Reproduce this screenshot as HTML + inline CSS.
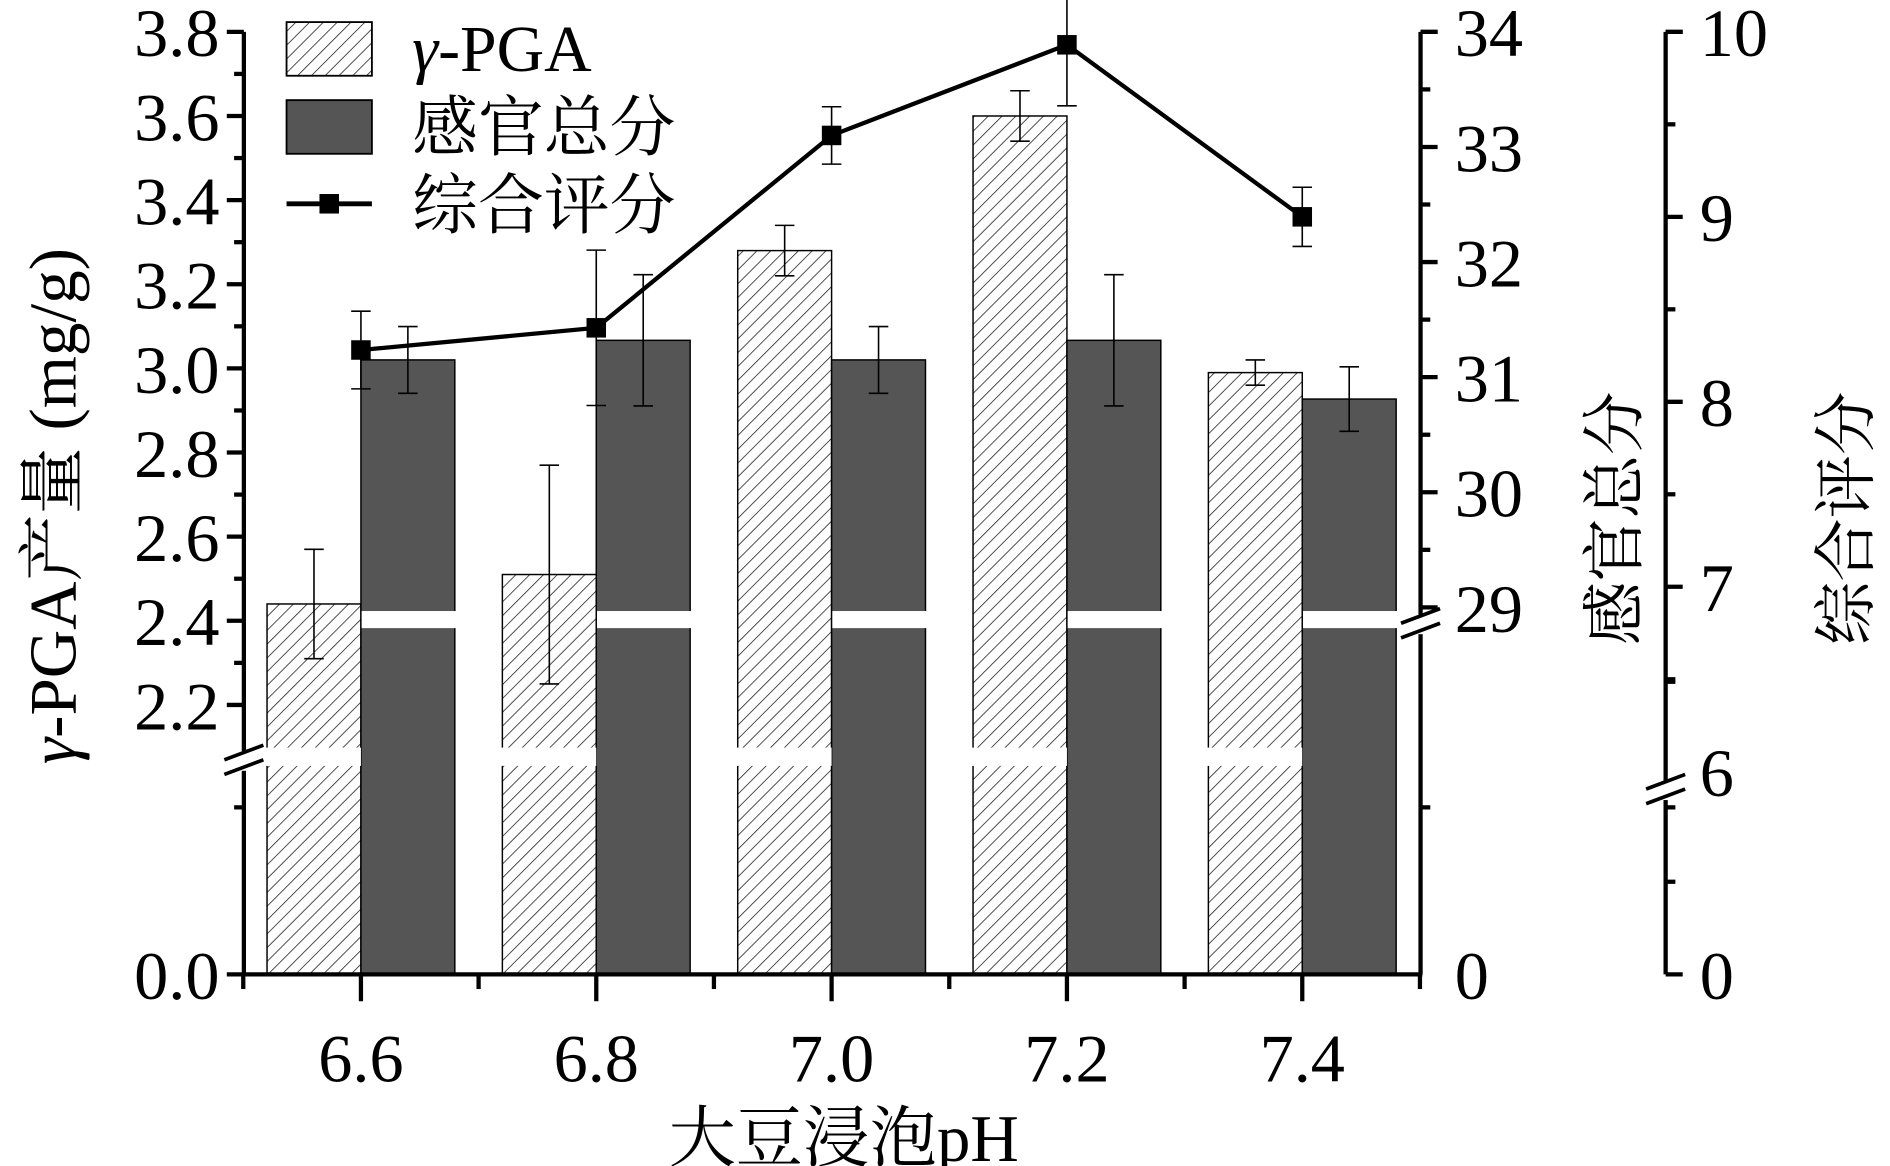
<!DOCTYPE html>
<html><head><meta charset="utf-8"><style>
html,body{margin:0;padding:0;background:#fff}
svg{display:block}
text{font-family:"Liberation Serif","Noto Serif CJK SC","Noto Sans CJK SC",serif;fill:#000}
</style></head><body>
<svg id="chart" width="1890" height="1166" viewBox="0 0 1550 956" xmlns="http://www.w3.org/2000/svg">
<defs>
<pattern id="hatch" patternUnits="userSpaceOnUse" width="8" height="8" patternTransform="rotate(45)">
<rect width="8" height="8" fill="#fff"/><line x1="0" y1="0" x2="0" y2="8" stroke="#222" stroke-width="1.3"/>
</pattern>
</defs>
<g id="plot"></g>
<g>
<rect x="235" y="18" width="70" height="44" fill="url(#hatch)" stroke="#000" stroke-width="1.5"/>
<text x="338" y="58" font-size="54"><tspan font-style="italic">γ</tspan>-PGA</text>
<rect x="235" y="82" width="70" height="44" fill="#555" stroke="#000" stroke-width="1.5"/>
<text x="338" y="123" font-size="54">感官总分</text>
<line x1="235" y1="167" x2="305" y2="167" stroke="#000" stroke-width="4"/>
<rect x="262" y="159" width="16" height="16" fill="#000"/>
<text x="338" y="187" font-size="54">综合评分</text>
</g>
<text transform="translate(62,415) rotate(-90)" text-anchor="middle" font-size="55"><tspan font-style="italic">γ</tspan>-PGA产量 (mg/g)</text>
<text transform="translate(1342,425) rotate(-90)" text-anchor="middle" font-size="52">感官总分</text>
<text transform="translate(1532,425) rotate(-90)" text-anchor="middle" font-size="52">综合评分</text>
<text x="692" y="952" text-anchor="middle" font-size="55">大豆浸泡pH</text>
</svg>
<script>
const categories = ["6.6","6.8","7.0","7.2","7.4"];
const pgaValues = [2.44, 2.51, 3.28, 3.60, 2.99];
const pgaErrors = [0.13, 0.26, 0.06, 0.06, 0.03];
const sensoryValues = [31.15, 31.32, 31.15, 31.32, 30.81];
const sensoryErrors = [0.29, 0.57, 0.29, 0.57, 0.28];
const compositeValues = [8.28, 8.40, 9.44, 9.93, 9.00];
const compositeErrors = [0.21, 0.42, 0.155, 0.33, 0.16];
const leftTicks = ["2.2","2.4","2.6","2.8","3.0","3.2","3.4","3.6","3.8"];
const right1Ticks = ["29","30","31","32","33","34"];
const right2Ticks = ["7","8","9","10"];

const NS="http://www.w3.org/2000/svg";
const plot=document.getElementById('plot');
function mk(tag,attrs,parent){const e=document.createElementNS(NS,tag);for(const k in attrs)e.setAttribute(k,attrs[k]);(parent||plot).appendChild(e);return e;}
const X0=200, X1=1165, XR2=1366, BOTTOM=799, TOP=26;
const FS=56, FO=20;
const xC=i=>296+i*193;
const BW=77;
const yL=v=>TOP+(3.8-v)*345;
const yR1=v=>TOP+(34-v)*94.4;
const yR2=v=>TOP+(10-v)*151.7;

categories.forEach((c,i)=>{
  const x=xC(i);
  let r=mk('rect',{x:x-BW,y:yL(pgaValues[i]),width:BW,height:BOTTOM-yL(pgaValues[i]),fill:'url(#hatch)',stroke:'#000','stroke-width':1.2});
  
  
  let d=mk('rect',{x:x,y:yR1(sensoryValues[i]),width:BW,height:BOTTOM-yR1(sensoryValues[i]),fill:'#555',stroke:'#000','stroke-width':1.2});
  
  
  let g1=mk('rect',{x:x-BW-1,y:613,width:BW+1,height:15,fill:'#fff'});
  
  
  let g2=mk('rect',{x:x+0.6,y:501,width:BW+1,height:14,fill:'#fff'});
  
  
});
function errbar(cx,yc,yTop,yBot,name){
  const g=mk('g',{stroke:'#000','stroke-width':1.3});
  
  
  mk('line',{x1:cx,y1:yTop,x2:cx,y2:yBot},g);
  mk('line',{x1:cx-8,y1:yTop,x2:cx+8,y2:yTop},g);
  mk('line',{x1:cx-8,y1:yBot,x2:cx+8,y2:yBot},g);
}
categories.forEach((c,i)=>{
  errbar(xC(i)-BW/2,0,yL(pgaValues[i]+pgaErrors[i]),yL(pgaValues[i]-pgaErrors[i]),'error-pga-'+c);
  errbar(xC(i)+BW/2,0,yR1(sensoryValues[i]+sensoryErrors[i]),yR1(sensoryValues[i]-sensoryErrors[i]),'error-sensory-'+c);
});
const pts=compositeValues.map((v,i)=>xC(i)+','+yR2(v)).join(' ');
const pl=mk('polyline',{points:pts,fill:'none',stroke:'#000','stroke-width':3.5});


categories.forEach((c,i)=>{
  errbar(xC(i),0,yR2(compositeValues[i]+compositeErrors[i]),yR2(compositeValues[i]-compositeErrors[i]),'error-composite-'+c);
  const m=mk('rect',{x:xC(i)-8,y:yR2(compositeValues[i])-8,width:16,height:16,fill:'#000'});
  
  
});
const ax=mk('g',{stroke:'#000','stroke-width':3.5,fill:'none'});


mk('line',{x1:X0,y1:TOP,x2:X0,y2:BOTTOM+1.5},ax);
mk('line',{x1:X0-1.5,y1:BOTTOM,x2:X1+1.5,y2:BOTTOM},ax);
mk('line',{x1:X1,y1:TOP,x2:X1,y2:BOTTOM},ax);
mk('line',{x1:XR2,y1:TOP,x2:XR2,y2:BOTTOM},ax);
mk('line',{x1:XR2,y1:TOP,x2:XR2+14,y2:TOP},ax);
mk('line',{x1:XR2,y1:BOTTOM,x2:XR2+14,y2:BOTTOM},ax);
mk('line',{x1:X1,y1:TOP,x2:X1+14,y2:TOP},ax);
leftTicks.forEach(t=>{const v=parseFloat(t),y=yL(v);
  mk('line',{x1:X0-14,y1:y,x2:X0,y2:y},ax);
  if(v<3.8)mk('line',{x1:X0-8,y1:yL(v+0.1),x2:X0,y2:yL(v+0.1)},ax);
  const tx=mk('text',{x:X0-20,y:y+FO,'text-anchor':'end','font-size':FS,stroke:'none'});
  tx.textContent=t;
  
  
});
mk('line',{x1:X0-14,y1:BOTTOM,x2:X0,y2:BOTTOM},ax);
mk('line',{x1:X0-8,y1:662,x2:X0,y2:662},ax);
let t0=mk('text',{x:X0-20,y:BOTTOM+FO,'text-anchor':'end','font-size':FS,stroke:'none'});t0.textContent='0.0';


right1Ticks.forEach(t=>{const v=parseFloat(t),y=yR1(v);
  mk('line',{x1:X1,y1:y,x2:X1+14,y2:y},ax);
  if(v<34)mk('line',{x1:X1,y1:yR1(v+0.5),x2:X1+8,y2:yR1(v+0.5)},ax);
  const tx=mk('text',{x:X1+28,y:y+FO,'font-size':FS,stroke:'none'});tx.textContent=t;
  
  
});
mk('line',{x1:X1,y1:662,x2:X1+8,y2:662},ax);
let t1=mk('text',{x:X1+28,y:BOTTOM+FO,'font-size':FS,stroke:'none'});t1.textContent='0';


right2Ticks.forEach(t=>{const v=parseFloat(t),y=yR2(v);
  mk('line',{x1:XR2,y1:y,x2:XR2+14,y2:y},ax);
  mk('line',{x1:XR2,y1:yR2(v-0.5),x2:XR2+8,y2:yR2(v-0.5)},ax);
  const tx=mk('text',{x:XR2+28,y:y+FO,'font-size':FS,stroke:'none'});tx.textContent=t;
  
  
});
[559,662,723].forEach(y=>mk('line',{x1:XR2,y1:y,x2:XR2+8,y2:y},ax));
['6','0'].forEach((t,k)=>{const y=k?BOTTOM:yR2(6);
  const tx=mk('text',{x:XR2+28,y:y+FO,'font-size':FS,stroke:'none'});tx.textContent=t;
  
  
});
categories.forEach((c,i)=>{const x=xC(i);
  mk('line',{x1:x,y1:BOTTOM,x2:x,y2:BOTTOM+22},ax);
  mk('line',{x1:x-96.5,y1:BOTTOM,x2:x-96.5,y2:BOTTOM+12},ax);
  const tx=mk('text',{x:x,y:BOTTOM+88,'text-anchor':'middle','font-size':FS,stroke:'none'});tx.textContent=c;
  
  
});
mk('line',{x1:X1-0.5,y1:BOTTOM,x2:X1-0.5,y2:BOTTOM+12},ax);
function brk(x,y){
  mk('rect',{x:x-14,y:y-8,width:28,height:16,fill:'#fff',stroke:'none'});
  const g=mk('g',{stroke:'#000','stroke-width':3});
  
  
  mk('line',{x1:x-16,y1:y-1,x2:x+16,y2:y-13},g);
  mk('line',{x1:x-16,y1:y+11,x2:x+16,y2:y-1},g);
}
brk(X0,624);brk(X1,512);brk(XR2,648);
</script>
</body></html>
